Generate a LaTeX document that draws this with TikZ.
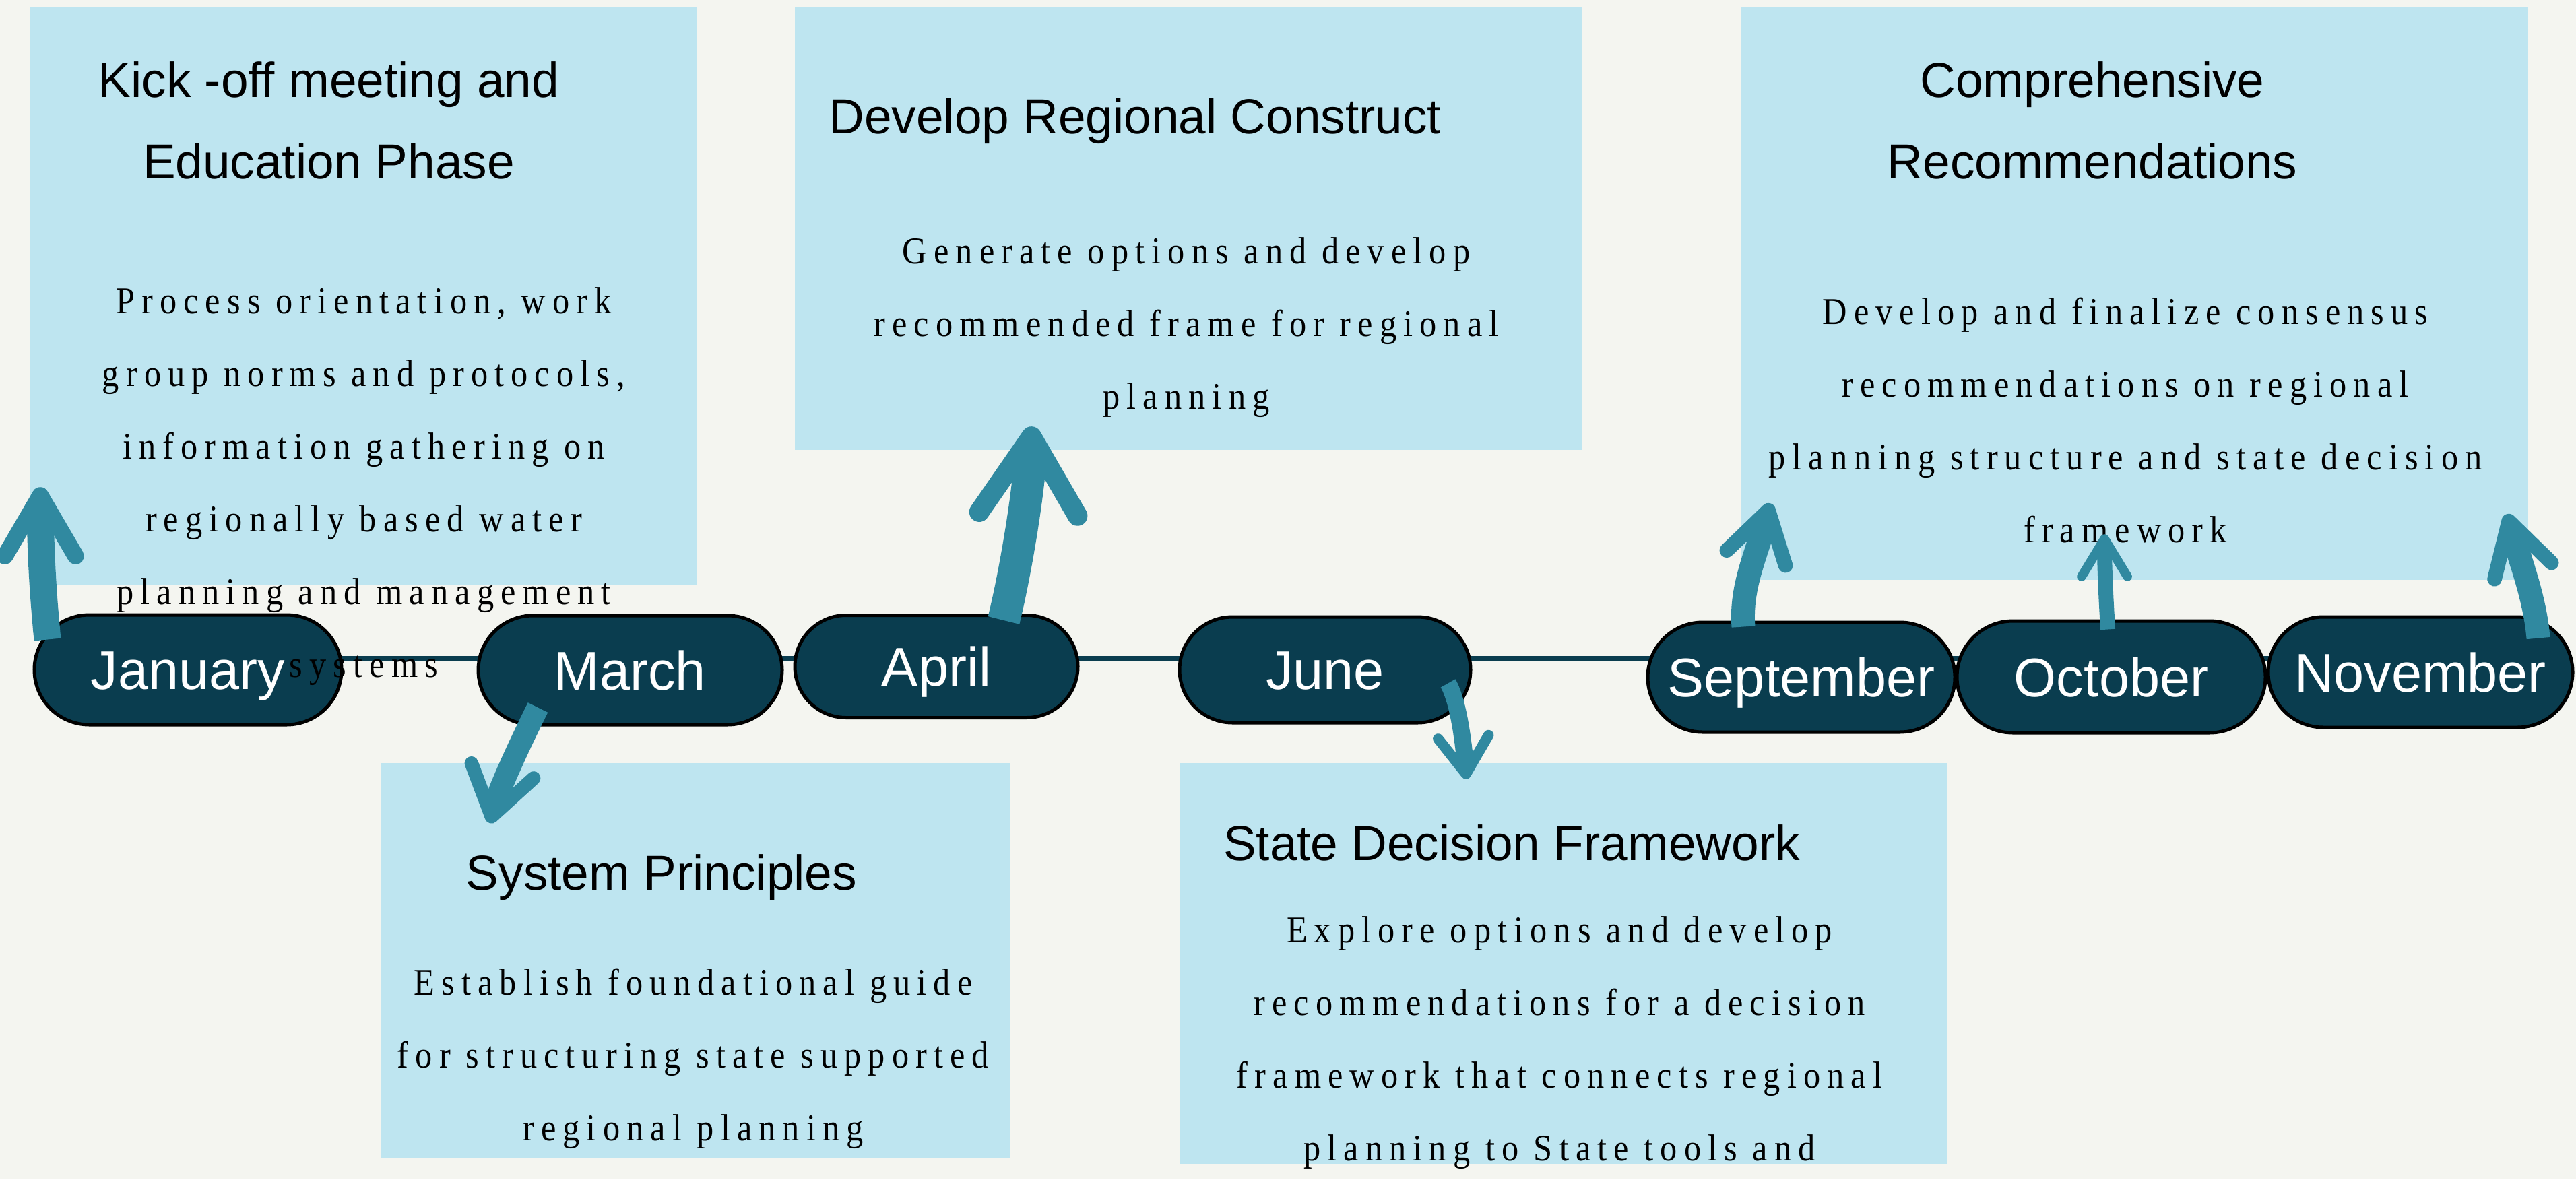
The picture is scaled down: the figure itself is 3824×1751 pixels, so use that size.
\documentclass[tikz,border=0pt]{standalone}
\usepackage{fontspec}
\setmainfont{Liberation Serif}
\newfontfamily\headfont{Liberation Sans}
\newfontfamily\notefont[LetterSpace=18,FakeStretch=0.9]{Liberation Serif}
\usetikzlibrary{arrows.meta,shapes.misc,calc}

\definecolor{paper}{HTML}{F4F5F0}
\definecolor{phaseblue}{HTML}{BEE5F0}
\definecolor{monthnavy}{HTML}{0A3D4F}
\definecolor{brushteal}{HTML}{3089A0}

\pgfdeclarelayer{back}
\pgfsetlayers{back,main}

\tikzset{
  phase/.style={
    fill=phaseblue, inner sep=0pt
  },
  heading/.style={
    font=\headfont\fontsize{73}{121}\selectfont,
    align=center, anchor=base, inner sep=0pt
  },
  note/.style={
    font=\notefont\fontsize{56}{108}\selectfont,
    align=center, anchor=base, inner sep=0pt
  },
  month/.style={
    rounded rectangle, draw=black, line width=5pt,
    fill=monthnavy, text=white, inner sep=0pt,
    font=\headfont\fontsize{81}{90}\selectfont,
    text height=58pt, text depth=0pt
  },
  timeline/.style={
    draw=monthnavy, line width=8pt
  },
  brush/.style n args={3}{
    draw=brushteal, line width=#1,
    -{Straight Barb[length=#2, width=#3, line width=0pt 0.62, round]}
  }
}

\begin{document}
\begin{tikzpicture}[x=1pt,y=-1pt]
  \useasboundingbox (0,0) rectangle (3824,1751);
  \begin{pgfonlayer}{back}
    \fill[paper] (0,0) rectangle (3824,1751);
  \end{pgfonlayer}
  \coordinate (axis) at (0,978);

  % phase boxes
  \node[phase, minimum width=990pt, minimum height=858pt] (kick) at (539,439) {};
  \node[phase, minimum width=1169pt, minimum height=658pt] (dev) at (1764.5,339) {};
  \node[phase, minimum width=1168pt, minimum height=851pt] (comp) at (3169,435.5) {};
  \node[phase, minimum width=933pt, minimum height=586pt] (sys) at (1032,1425.5) {};
  \node[phase, minimum width=1139pt, minimum height=595pt] (sdf) at (2321.5,1430.5) {};

  % texts (base = last line)
  \node[heading] (kick-title) at (488,265) {Kick -off meeting and\\Education Phase};

  \node[heading] (dev-title) at (1685,198) {Develop Regional Construct};
  \node[note] (dev-text) at (1761,607) {Generate options and develop\\recommended frame for regional\\planning};

  \node[heading] (comp-title) at (3106,265) {Comprehensive\\Recommendations};
  \node[note] (comp-text) at (3155,805) {Develop and finalize consensus\\recommendations on regional\\planning structure and state decision\\framework};

  \node[heading] (sys-title) at (982,1321) {System Principles};
  \node[note] (sys-text) at (1029,1693) {Establish foundational guide\\for structuring state supported\\regional planning};

  \node[heading] (sdf-title) at (2244,1277) {State Decision Framework};
  \node[note] (sdf-text) at (2315,1723) {Explore options and develop\\recommendations for a decision\\framework that connects regional\\planning to State tools and};

  % months
  \node[month, minimum width=456pt, minimum height=163pt] (jan) at (279,994.5) {January};
  \node[month, minimum width=451pt, minimum height=162pt] (mar) at (935.5,995) {March};
  \node[month, minimum width=420pt, minimum height=152pt] (apr) at (1390,989.5) {April};
  \node[month, minimum width=432pt, minimum height=157pt] (jun) at (1967,994.5) {June};
  \node[month, minimum width=456pt, minimum height=163pt] (sep) at (2674,1005.5) {September};
  \node[month, minimum width=458pt, minimum height=166pt] (oct) at (3134,1005) {October};
  \node[month, minimum width=452pt, minimum height=164pt] (nov) at (3593,998) {November};

  % runs over the January pill
  \node[note] (kick-text) at (540,1005) {Process orientation, work\\group norms and protocols,\\information gathering on\\regionally based water\\planning and management\\systems};

  \begin{pgfonlayer}{back}
    \draw[timeline] (jan |- axis) -- (nov |- axis);
  \end{pgfonlayer}

  % brush arrows
  \draw[brush={40pt}{90pt}{105pt}] ($(jan.west)+(22,-45)$)
    .. controls +(-8,-80) and +(0,80) .. ($(kick.south west)+(16,-145)$);
  \draw[brush={33pt}{70pt}{95pt}] ($(mar.south)+(-137,-28)$)
    .. controls +(-20,40) and +(12,-50) .. ($(sys.north west)+(162,90)$);
  \draw[brush={48pt}{115pt}{146pt}] ($(apr.north)+(100,10)$)
    .. controls +(15,-60) and +(-4,100) .. ($(dev.south west)+(352,-35)$);
  \draw[brush={25pt}{55pt}{75pt}] ($(jun.east)+(-36,20)$)
    .. controls +(15,25) and +(-4,-55) .. ($(sdf.north west)+(425,24)$);
  \draw[brush={35pt}{73pt}{90pt}] ($(sep.north)+(-86,9)$)
    .. controls +(-5,-60) and +(-18,70) .. ($(comp.south west)+(43,-114)$);
  \draw[brush={22pt}{56pt}{68pt}] ($(oct.north)+(-5,15)$)
    .. controls +(-3,-50) and +(0,50) .. ($(comp.south)+(-45,-68)$);
  \draw[brush={35pt}{77pt}{88pt}] ($(nov.north)+(175,34)$)
    .. controls +(-5,-60) and +(20,70) .. ($(comp.south east)+(-32,-98)$);
\end{tikzpicture}
\end{document}
